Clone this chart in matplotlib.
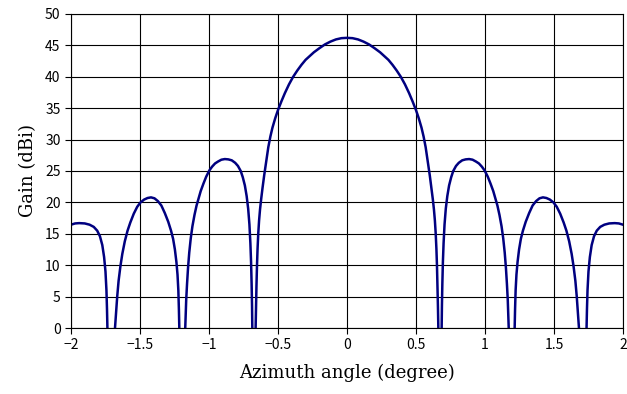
import matplotlib
matplotlib.use("Agg")
import matplotlib.pyplot as plt
import numpy as np

# right half of the pattern (it is symmetric)
angle_right = [0.00, 0.04, 0.08, 0.12, 0.16, 0.20, 0.24, 0.27, 0.30, 0.33,
               0.36, 0.39, 0.42, 0.45, 0.475, 0.50, 0.52, 0.54, 0.555, 0.57,
               0.585, 0.60, 0.612, 0.622, 0.63, 0.637, 0.643, 0.648, 0.652, 0.656,
               0.659, 0.662, 0.674,
               # first sidelobe
               0.686, 0.688, 0.691, 0.695, 0.70, 0.707, 0.716, 0.727, 0.74, 0.755,
               0.77, 0.79, 0.81, 0.835, 0.86, 0.885, 0.91, 0.935, 0.956, 0.977,
               0.997, 1.02, 1.04, 1.06, 1.076, 1.09, 1.105, 1.12, 1.132, 1.143,
               1.152, 1.159, 1.165, 1.169, 1.172, 1.195,
               # second sidelobe
               1.215, 1.218, 1.222, 1.228, 1.236, 1.247, 1.26, 1.275, 1.295, 1.32,
               1.345, 1.37, 1.395, 1.42, 1.445, 1.47, 1.496, 1.52, 1.545, 1.57,
               1.59, 1.61, 1.628, 1.642, 1.655, 1.665, 1.673, 1.681, 1.708,
               # third sidelobe
               1.736, 1.739, 1.743, 1.75, 1.76, 1.773, 1.79, 1.81, 1.835, 1.865,
               1.90, 1.94, 1.97, 2.00]
gain_right = [46.2, 46.15, 45.95, 45.6, 45.15, 44.55, 43.9, 43.3, 42.7, 41.9,
              41.0, 40.0, 38.8, 37.4, 36.1, 34.7, 33.4, 31.9, 30.5, 28.8,
              26.6, 24.3, 22.3, 20.5, 18.9, 17.1, 15.0, 12.6, 10.0, 6.6,
              3.5, 0.0, -10.0,
              0.0, 3.5, 7.0, 10.5, 13.5, 16.5, 19.0, 21.0, 22.7, 24.0,
              25.0, 25.8, 26.3, 26.7, 26.85, 26.9, 26.8, 26.5, 26.2, 25.7,
              25.1, 24.1, 23.0, 21.8, 20.6, 19.5, 18.0, 16.2, 14.3, 12.0,
              9.5, 7.0, 4.5, 2.0, 0.0, -10.0,
              0.0, 3.0, 6.0, 8.5, 10.5, 12.5, 14.2, 15.5, 16.9, 18.3,
              19.5, 20.2, 20.65, 20.8, 20.7, 20.45, 20.0, 19.3, 18.2, 16.8,
              15.5, 13.8, 11.8, 9.8, 7.5, 5.0, 2.5, 0.0, -10.0,
              0.0, 3.0, 6.0, 9.0, 11.3, 13.2, 14.6, 15.5, 16.1, 16.45,
              16.65, 16.7, 16.65, 16.45]

angle = [-a for a in angle_right[::-1]] + angle_right[1:]
gain = gain_right[::-1] + gain_right[1:]

tick_font = ['Noto Sans CJK JP', 'DejaVu Sans']

fig = plt.figure(figsize=(6.27, 3.94), dpi=100)
ax = fig.add_axes([0.1132, 0.1675, 0.8804, 0.797])

ax.plot(angle, gain, color='#000080', lw=1.8, solid_joinstyle='round')

ax.set_xlim(-2, 2)
ax.set_ylim(0, 50)
ax.set_xticks(np.arange(-2, 2.01, 0.5))
ax.set_yticks(np.arange(0, 51, 5))
ax.set_xticklabels(['−2', '−1.5', '−1', '−0.5', '0', '0.5', '1', '1.5', '2'])
ax.grid(True, color='black', lw=0.8)
ax.set_axisbelow(True)
ax.tick_params(direction='out', length=4, width=0.8, labelsize=10)
for lab in ax.get_xticklabels() + ax.get_yticklabels():
    lab.set_family(tick_font)
for sp in ax.spines.values():
    sp.set_color('black')
    sp.set_linewidth(0.8)

ax.set_xlabel('Azimuth angle (degree)', family='DejaVu Serif', fontsize=13, labelpad=8)
ax.set_ylabel('Gain (dBi)', family='DejaVu Serif', fontsize=13, labelpad=6)

fig.savefig('out.png', dpi=100)
